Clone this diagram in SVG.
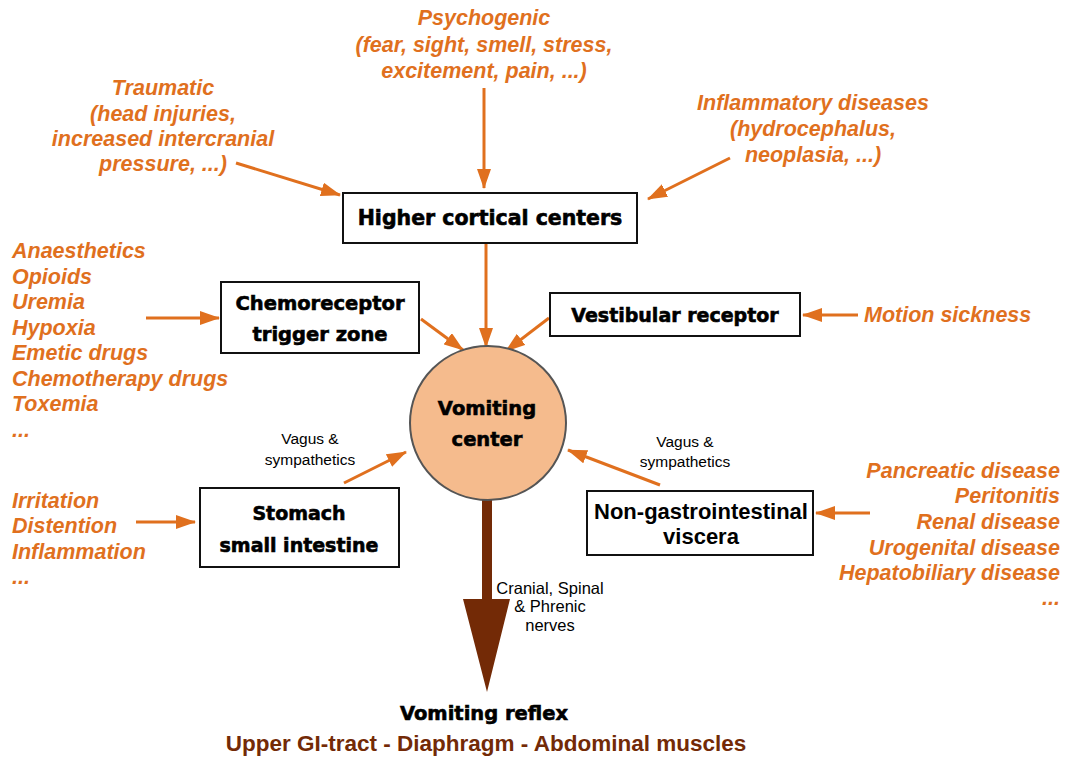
<svg xmlns="http://www.w3.org/2000/svg" width="1066" height="758" viewBox="0 0 1066 758">
<defs>
<marker id="ah" markerUnits="userSpaceOnUse" markerWidth="20" markerHeight="14" refX="19" refY="7" orient="auto">
<path d="M0,0 L20,7 L0,14 z" fill="#e0701e"/>
</marker>
</defs>
<style>
.o{font-family:"Liberation Sans",Arial,sans-serif;font-weight:bold;font-style:italic;font-size:21.5px;fill:#e0701e}
.h{font-family:"DejaVu Sans",sans-serif;font-weight:bold;fill:#000;stroke:#000;stroke-width:0.6;text-anchor:middle}
.b{font-family:"Liberation Sans",Arial,sans-serif;font-weight:bold;fill:#000;text-anchor:middle}
.s{font-family:"Liberation Sans",Arial,sans-serif;font-size:15.5px;fill:#000;text-anchor:middle}
.n{font-family:"Liberation Sans",Arial,sans-serif;font-size:16.5px;fill:#000;text-anchor:middle}
.box{fill:#fff;stroke:#111;stroke-width:2}
.c{stroke:#e0701e;stroke-width:3;fill:none;marker-end:url(#ah)}
</style>
<rect width="1066" height="758" fill="#fff"/>

<g id="connectors">
<line class="c" x1="484" y1="88" x2="484" y2="188"/>
<line class="c" x1="236" y1="163" x2="340" y2="195"/>
<line class="c" x1="730" y1="158" x2="648" y2="199"/>
<line class="c" x1="146" y1="318" x2="219" y2="318"/>
<line class="c" x1="421" y1="319" x2="463" y2="350"/>
<line class="c" x1="486" y1="244" x2="486" y2="347"/>
<line class="c" x1="549" y1="318" x2="506" y2="351"/>
<line class="c" x1="858" y1="315" x2="803" y2="315"/>
<line class="c" x1="344" y1="483" x2="406" y2="452"/>
<line class="c" x1="660" y1="485" x2="568" y2="450"/>
<line class="c" x1="136" y1="522" x2="195" y2="522"/>
<line class="c" x1="870" y1="513" x2="816" y2="513"/>
<path d="M482,496 L492,496 L492,599 L510,599 L487,692 L463,599 L482,599 z" fill="#732a06"/>
</g>

<g id="psychogenic">
<text class="o" text-anchor="middle" x="484" y="25">Psychogenic</text>
<text class="o" text-anchor="middle" x="484" y="52">(fear, sight, smell, stress,</text>
<text class="o" text-anchor="middle" x="484" y="78">excitement, pain, ...)</text>
</g>
<g id="traumatic">
<text class="o" text-anchor="middle" x="163" y="95">Traumatic</text>
<text class="o" text-anchor="middle" x="163" y="121">(head injuries,</text>
<text class="o" text-anchor="middle" x="163" y="146">increased intercranial</text>
<text class="o" text-anchor="middle" x="163" y="171">pressure, ...)</text>
</g>
<g id="inflammatory">
<text class="o" text-anchor="middle" x="813" y="110">Inflammatory diseases</text>
<text class="o" text-anchor="middle" x="813" y="136">(hydrocephalus,</text>
<text class="o" text-anchor="middle" x="813" y="162">neoplasia, ...)</text>
</g>

<g id="higher-cortical">
<rect class="box" x="343" y="193" width="294" height="50"/>
<text class="h" x="490" y="225" font-size="20.5">Higher cortical centers</text>
</g>

<g id="chemo-causes">
<text class="o" x="12" y="258">Anaesthetics</text>
<text class="o" x="12" y="284">Opioids</text>
<text class="o" x="12" y="309">Uremia</text>
<text class="o" x="12" y="335">Hypoxia</text>
<text class="o" x="12" y="360">Emetic drugs</text>
<text class="o" x="12" y="386">Chemotherapy drugs</text>
<text class="o" x="12" y="411">Toxemia</text>
<text class="o" x="12" y="437">...</text>
</g>

<g id="ctz">
<rect class="box" x="221" y="282" width="198" height="71"/>
<text class="h" x="320" y="310" font-size="19.5">Chemoreceptor</text>
<text class="h" x="320" y="341" font-size="19.5">trigger zone</text>
</g>

<g id="vestibular">
<rect class="box" x="550" y="293" width="250" height="43"/>
<text class="h" x="675" y="322" font-size="19">Vestibular receptor</text>
</g>
<g id="motion">
<text class="o" x="864" y="322">Motion sickness</text>
</g>

<g id="vomiting-center">
<ellipse cx="488" cy="423" rx="78" ry="77" fill="#f5bb8d" stroke="#555" stroke-width="2"/>
<text class="h" x="487" y="415" font-size="19.5">Vomiting</text>
<text class="h" x="487" y="446" font-size="19.5">center</text>
</g>

<g id="vagus-left">
<text class="s" x="310" y="444">Vagus &amp;</text>
<text class="s" x="310" y="465">sympathetics</text>
</g>
<g id="vagus-right">
<text class="s" x="685" y="447">Vagus &amp;</text>
<text class="s" x="685" y="467">sympathetics</text>
</g>

<g id="stomach-causes">
<text class="o" x="12" y="508">Irritation</text>
<text class="o" x="12" y="533">Distention</text>
<text class="o" x="12" y="559">Inflammation</text>
<text class="o" x="12" y="584">...</text>
</g>

<g id="stomach">
<rect class="box" x="200" y="488" width="199" height="79"/>
<text class="h" x="299" y="520" font-size="19">Stomach</text>
<text class="h" x="299" y="552" font-size="19">small intestine</text>
</g>

<g id="non-gi">
<rect class="box" x="587" y="491" width="226" height="64"/>
<text class="b" x="701" y="519" font-size="22">Non-gastrointestinal</text>
<text class="b" x="701" y="544" font-size="22">viscera</text>
</g>

<g id="non-gi-causes">
<text class="o" text-anchor="end" x="1060" y="478">Pancreatic disease</text>
<text class="o" text-anchor="end" x="1060" y="503">Peritonitis</text>
<text class="o" text-anchor="end" x="1060" y="529">Renal disease</text>
<text class="o" text-anchor="end" x="1060" y="555">Urogenital disease</text>
<text class="o" text-anchor="end" x="1060" y="580">Hepatobiliary disease</text>
<text class="o" text-anchor="end" x="1060" y="605">...</text>
</g>

<g id="nerves">
<text class="n" x="550" y="594">Cranial, Spinal</text>
<text class="n" x="550" y="612">&amp; Phrenic</text>
<text class="n" x="550" y="631">nerves</text>
</g>

<g id="vomiting-reflex">
<text class="h" x="484" y="720" font-size="19.5">Vomiting reflex</text>
<text class="b" x="486" y="751" font-size="22.5" style="fill:#732a06">Upper GI-tract - Diaphragm - Abdominal muscles</text>
</g>
</svg>
